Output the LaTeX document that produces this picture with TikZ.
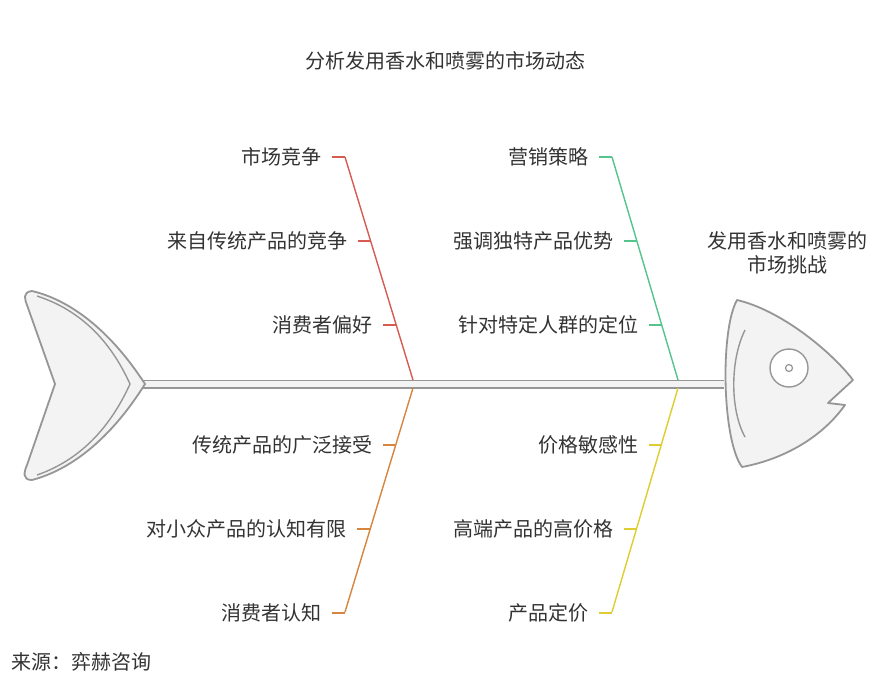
\documentclass[tikz,border=0pt]{standalone}
\usepackage{fontspec}
\setmainfont{Noto Sans CJK SC}
\definecolor{bonered}{RGB}{214,92,82}
\definecolor{bonegreen}{RGB}{84,196,140}
\definecolor{boneorange}{RGB}{214,132,62}
\definecolor{boneyellow}{RGB}{222,204,48}
\definecolor{fishgray}{RGB}{150,150,150}
\definecolor{fishfill}{RGB}{243,243,243}
\begin{document}
\begin{tikzpicture}
[x=1pt,y=-1pt,
  labeldecorate/.style={font=\fontsize{20}{24}\selectfont,text=black!80,inner sep=0pt},
  bonedecorate/.style={line width=1.4pt},
  fishdecorate/.style={draw=fishgray,fill=fishfill,line width=1.8pt,line join=round}]
\useasboundingbox (0,0) rectangle (896,675);
%%% title and notes
\node (title) at (445,61) [labeldecorate] {分析发用香水和喷雾的市场动态};
\node (effect) at (787,253) [labeldecorate,align=center] {发用香水和喷雾的\\市场挑战};
\node (source) at (11,662) [labeldecorate,anchor=west] {来源：弈赫咨询};
%%% spine
\draw[fishgray,line width=9pt] (140,384) -- (724,384);
\draw[fishfill,line width=5.5pt] (140,384) -- (724,384);
%%% tail
\draw[fishdecorate] (145,384) .. controls (110,330) and (70,300) .. (32,291)
  .. controls (22,292) and (25,300) .. (27,305) -- (55,384) -- (27,465)
  .. controls (24,472) and (22,480) .. (32,480) .. controls (70,470) and (110,440) .. (145,384) -- cycle;
\draw[fishgray,line width=1.4pt] (37,296) .. controls (80,310) and (110,340) .. (130,384)
  .. controls (110,428) and (80,460) .. (37,475);
%%% head
\draw[fishdecorate] (737,300) .. controls (780,310) and (830,350) .. (853,380)
  -- (828,403) -- (845,405) .. controls (820,440) and (780,460) .. (742,467)
  .. controls (722,440) and (720,330) .. (737,300) -- cycle;
\draw[fishgray,line width=1.4pt] (745,330) .. controls (730,360) and (730,410) .. (745,437);
\node (eye) at (789,368) [circle,draw=fishgray,line width=1.4pt,fill=white,minimum size=38pt,inner sep=0pt] {};
\node (pupil) at (789,368) [circle,draw=fishgray,line width=1.2pt,minimum size=7pt,inner sep=0pt] {};
%%% bones
\coordinate (r1) at (345,157); \coordinate (r2) at (413,380);
\coordinate (g1) at (612,157); \coordinate (g2) at (678,380);
\coordinate (o1) at (413,388); \coordinate (o2) at (345,612);
\coordinate (y1) at (678,388); \coordinate (y2) at (612,612);
\draw[bonedecorate,bonered] (r1) -- (r2);
\draw[bonedecorate,bonegreen] (g1) -- (g2);
\draw[bonedecorate,boneorange] (o1) -- (o2);
\draw[bonedecorate,boneyellow] (y1) -- (y2);
% causes and ticks
\foreach \col/\x/\y/\txt in {bonered/345/157/市场竞争, bonered/371/241/来自传统产品的竞争, bonered/396/325/消费者偏好,
  bonegreen/612/157/营销策略, bonegreen/637/241/强调独特产品优势, bonegreen/662/325/针对特定人群的定位,
  boneorange/396/445/传统产品的广泛接受, boneorange/370/529/对小众产品的认知有限, boneorange/345/613/消费者认知,
  boneyellow/662/445/价格敏感性, boneyellow/637/529/高端产品的高价格, boneyellow/612/613/产品定价}
{
  \draw[bonedecorate,\col] (\x-13,\y) -- (\x,\y);
  \node at (\x-23,\y) [labeldecorate,anchor=east] {\txt};
}
\end{tikzpicture}
\end{document}
